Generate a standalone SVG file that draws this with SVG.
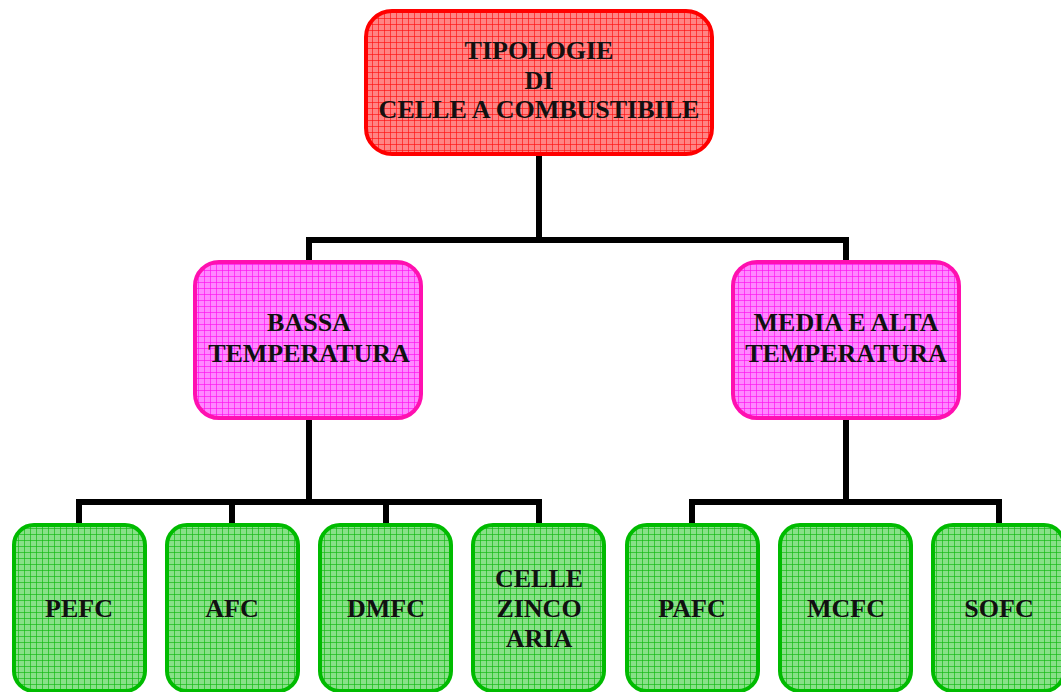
<svg xmlns="http://www.w3.org/2000/svg" width="1061" height="692" viewBox="0 0 1061 692">
<style>
.t{font-family:"Liberation Serif","Times New Roman",serif;font-weight:bold;font-size:26px;fill:#111;text-anchor:middle}
.c{fill:none;stroke:#000;stroke-width:6;stroke-linejoin:miter;stroke-linecap:square}
.red{stroke:#ff0000;stroke-width:4}
.pink{stroke:#ff10b0;stroke-width:4}
.green{stroke:#00bb00;stroke-width:4}
.gl{fill:none;stroke-width:1;stroke-opacity:0.65}
</style>
<defs>
<pattern id="gr" width="6" height="6" patternUnits="userSpaceOnUse">
<rect width="6" height="6" fill="#ff8484"/>
<path class="gl" d="M0 0.5H6M0.5 0V6" stroke="#ff1010"/>
</pattern>
<pattern id="gp" width="6" height="6" patternUnits="userSpaceOnUse">
<rect width="6" height="6" fill="#ff88ff"/>
<path class="gl" d="M0 0.5H6M0.5 0V6" stroke="#ff10f0"/>
</pattern>
<pattern id="gg" width="6" height="6" patternUnits="userSpaceOnUse">
<rect width="6" height="6" fill="#88e088"/>
<path class="gl" d="M0 0.5H6M0.5 0V6" stroke="#10b810"/>
</pattern>
</defs>
<g id="connectors">
<path class="c" d="M539 156V240M309 262V240H846V262"/>
<path class="c" d="M309 420V502M79 523V502H539V523M232 502V523M386 502V523"/>
<path class="c" d="M846 420V502M692 523V502H999V523"/>
</g>
<g id="root">
<rect x="366" y="11" width="346" height="143" rx="26" fill="url(#gr)" class="red"/>
<text class="t" x="539" y="59">TIPOLOGIE</text>
<text class="t" x="539" y="89">DI</text>
<text class="t" x="539" y="118">CELLE A COMBUSTIBILE</text>
</g>
<g id="bassa">
<rect x="195" y="262" width="226" height="156" rx="24" fill="url(#gp)" class="pink"/>
<text class="t" x="309" y="331">BASSA</text>
<text class="t" x="309" y="362">TEMPERATURA</text>
</g>
<g id="media">
<rect x="733" y="262" width="226" height="156" rx="24" fill="url(#gp)" class="pink"/>
<text class="t" x="846" y="331">MEDIA E ALTA</text>
<text class="t" x="846" y="362">TEMPERATURA</text>
</g>
<g id="pefc">
<rect x="14" y="525" width="131" height="166" rx="20" fill="url(#gg)" class="green"/>
<text class="t" x="79" y="617">PEFC</text>
</g>
<g id="afc">
<rect x="167" y="525" width="131" height="166" rx="20" fill="url(#gg)" class="green"/>
<text class="t" x="232" y="617">AFC</text>
</g>
<g id="dmfc">
<rect x="320" y="525" width="131" height="166" rx="20" fill="url(#gg)" class="green"/>
<text class="t" x="386" y="617">DMFC</text>
</g>
<g id="zinco">
<rect x="473" y="525" width="131" height="166" rx="20" fill="url(#gg)" class="green"/>
<text class="t" x="539" y="587">CELLE</text>
<text class="t" x="539" y="617">ZINCO</text>
<text class="t" x="539" y="647">ARIA</text>
</g>
<g id="pafc">
<rect x="627" y="525" width="131" height="166" rx="20" fill="url(#gg)" class="green"/>
<text class="t" x="692" y="617">PAFC</text>
</g>
<g id="mcfc">
<rect x="780" y="525" width="131" height="166" rx="20" fill="url(#gg)" class="green"/>
<text class="t" x="846" y="617">MCFC</text>
</g>
<g id="sofc">
<rect x="933" y="525" width="131" height="166" rx="20" fill="url(#gg)" class="green"/>
<text class="t" x="999" y="617">SOFC</text>
</g>
</svg>
